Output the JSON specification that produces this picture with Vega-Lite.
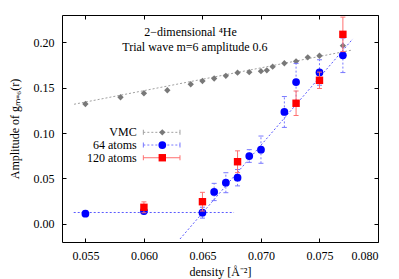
{
  "$schema": "https://vega.github.io/schema/vega-lite/v6.json",
  "width": 316,
  "height": 227,
  "autosize": {"type": "none"},
  "padding": {"left": 62, "top": 15, "right": 21, "bottom": 37},
  "background": "white",
  "config": {
    "view": {"stroke": "#000000", "strokeWidth": 1},
    "axis": {
      "labelFont": "Liberation Serif", "labelFontSize": 12, "labelColor": "#000000",
      "titleFont": "Liberation Serif", "titleFontSize": 12, "titleFontWeight": "normal", "titleColor": "#000000",
      "tickColor": "#000000", "tickSize": -4, "domain": false, "grid": false
    },
    "text": {"font": "Liberation Serif", "fontSize": 12, "color": "#000000"}
  },
  "datasets": {
    "fits": [
      {"f": "gray", "x": 0.05403, "y": 0.1317},
      {"f": "gray", "x": 0.07784, "y": 0.1915},
      {"f": "flat", "x": 0.0540, "y": 0.0125},
      {"f": "flat", "x": 0.0677, "y": 0.0125},
      {"f": "steep", "x": 0.06308, "y": -0.0167},
      {"f": "steep", "x": 0.07784, "y": 0.2036}
    ],
    "pts": [
      {"s": "VMC", "x": 0.055, "y": 0.1320},
      {"s": "VMC", "x": 0.058, "y": 0.1394},
      {"s": "VMC", "x": 0.060, "y": 0.1438},
      {"s": "VMC", "x": 0.062, "y": 0.1471},
      {"s": "VMC", "x": 0.064, "y": 0.1537},
      {"s": "VMC", "x": 0.065, "y": 0.1573},
      {"s": "VMC", "x": 0.066, "y": 0.1601},
      {"s": "VMC", "x": 0.067, "y": 0.1630},
      {"s": "VMC", "x": 0.068, "y": 0.1665},
      {"s": "VMC", "x": 0.069, "y": 0.1670},
      {"s": "VMC", "x": 0.070, "y": 0.1681},
      {"s": "VMC", "x": 0.0705, "y": 0.1691},
      {"s": "VMC", "x": 0.071, "y": 0.1731},
      {"s": "VMC", "x": 0.072, "y": 0.1769},
      {"s": "VMC", "x": 0.073, "y": 0.1790},
      {"s": "VMC", "x": 0.074, "y": 0.1834},
      {"s": "VMC", "x": 0.075, "y": 0.1851},
      {"s": "VMC", "x": 0.077, "y": 0.1962},
      {"s": "64 atoms", "x": 0.055, "y": 0.0112, "lo": 0.0082, "hi": 0.0142},
      {"s": "64 atoms", "x": 0.060, "y": 0.0141, "lo": 0.0111, "hi": 0.0171},
      {"s": "64 atoms", "x": 0.065, "y": 0.0123, "lo": 0.0063, "hi": 0.0183},
      {"s": "64 atoms", "x": 0.066, "y": 0.0351, "lo": 0.0256, "hi": 0.0446},
      {"s": "64 atoms", "x": 0.067, "y": 0.0453, "lo": 0.0343, "hi": 0.0563},
      {"s": "64 atoms", "x": 0.068, "y": 0.0508, "lo": 0.0418, "hi": 0.0598},
      {"s": "64 atoms", "x": 0.069, "y": 0.0747, "lo": 0.0677, "hi": 0.0817},
      {"s": "64 atoms", "x": 0.070, "y": 0.0817, "lo": 0.0667, "hi": 0.0967},
      {"s": "64 atoms", "x": 0.072, "y": 0.1232, "lo": 0.1062, "hi": 0.1402},
      {"s": "64 atoms", "x": 0.073, "y": 0.1562, "lo": 0.1357, "hi": 0.1767},
      {"s": "64 atoms", "x": 0.075, "y": 0.1667, "lo": 0.1527, "hi": 0.1807},
      {"s": "64 atoms", "x": 0.077, "y": 0.1856, "lo": 0.1666, "hi": 0.2046},
      {"s": "120 atoms", "x": 0.060, "y": 0.0182, "lo": 0.0122, "hi": 0.0242},
      {"s": "120 atoms", "x": 0.065, "y": 0.0244, "lo": 0.0141, "hi": 0.0347},
      {"s": "120 atoms", "x": 0.068, "y": 0.0684, "lo": 0.0564, "hi": 0.0804},
      {"s": "120 atoms", "x": 0.073, "y": 0.1328, "lo": 0.1193, "hi": 0.1463},
      {"s": "120 atoms", "x": 0.075, "y": 0.1581, "lo": 0.1491, "hi": 0.1671},
      {"s": "120 atoms", "x": 0.077, "y": 0.2087, "lo": 0.1897, "hi": 0.2277}
    ]
  },
  "layer": [
    {
      "data": {"name": "fits"},
      "transform": [{"filter": "datum.f === 'gray'"}],
      "mark": {"type": "line", "color": "#a0a0a0", "strokeDash": [2, 2], "strokeWidth": 1},
      "encoding": {
        "x": {"field": "x", "type": "quantitative", "scale": {"domain": [0.053, 0.08], "nice": false, "zero": false},
              "axis": {"orient": "top", "labels": false, "title": null, "tickSize": -4, "tickColor": "#000000", "values": [0.055, 0.06, 0.065, 0.07, 0.075, 0.08]}},
        "y": {"field": "y", "type": "quantitative", "scale": {"domain": [-0.02, 0.23], "nice": false, "zero": false},
              "axis": {"orient": "right", "labels": false, "title": null, "tickSize": -4, "tickColor": "#000000", "values": [0, 0.05, 0.1, 0.15, 0.2]}}
      }
    },
    {
      "data": {"name": "fits"},
      "transform": [{"filter": "datum.f !== 'gray'"}],
      "mark": {"type": "line", "color": "#5a5aff", "strokeDash": [2, 2], "strokeWidth": 1},
      "encoding": {
        "x": {"field": "x", "type": "quantitative", "axis": null},
        "y": {"field": "y", "type": "quantitative", "axis": null},
        "detail": {"field": "f"}
      }
    },
    {
      "data": {"name": "pts"},
      "transform": [{"filter": "datum.s === 'VMC'"}],
      "mark": {"type": "point", "shape": "diamond", "filled": true, "color": "#787878", "size": 40, "opacity": 1},
      "encoding": {
        "x": {"field": "x", "type": "quantitative", "scale": {"domain": [0.053, 0.08], "nice": false, "zero": false},
              "axis": {"orient": "bottom", "values": [0.055, 0.06, 0.065, 0.07, 0.075, 0.08], "format": ".3f",
                       "labelFont": "Liberation Serif", "labelFontSize": 12, "labelColor": "#000000", "labelPadding": 12,
                       "tickSize": -4, "tickColor": "#000000",
                       "title": "density [Å⁻²]", "titleFont": "Liberation Serif", "titleFontSize": 12, "titleFontWeight": "normal", "titleColor": "#000000", "titlePadding": 5}},
        "y": {"field": "y", "type": "quantitative", "scale": {"domain": [-0.02, 0.23], "nice": false, "zero": false},
              "axis": {"orient": "left", "values": [0, 0.05, 0.1, 0.15, 0.2], "format": ".2f",
                       "labelFont": "Liberation Serif", "labelFontSize": 12, "labelColor": "#000000", "labelPadding": 12,
                       "tickSize": -4, "tickColor": "#000000",
                       "title": "Amplitude of gₘ₌₆(r)", "titleFont": "Liberation Serif", "titleFontSize": 12, "titleFontWeight": "normal", "titleColor": "#000000", "titlePadding": 12}}
      }
    },
    {
      "data": {"name": "pts"},
      "transform": [{"filter": "datum.s === '64 atoms'"}],
      "mark": {"type": "rule", "color": "#7878ff", "strokeDash": [2, 2], "strokeWidth": 1},
      "encoding": {
        "x": {"field": "x", "type": "quantitative", "axis": null},
        "y": {"field": "lo", "type": "quantitative", "axis": null},
        "y2": {"field": "hi"}
      }
    },
    {
      "data": {"name": "pts"},
      "transform": [{"filter": "datum.s === '64 atoms'"}, {"fold": ["lo", "hi"]}],
      "mark": {"type": "tick", "orient": "horizontal", "color": "#7878ff", "size": 5, "thickness": 1, "opacity": 1},
      "encoding": {
        "x": {"field": "x", "type": "quantitative", "axis": null},
        "y": {"field": "value", "type": "quantitative", "axis": null}
      }
    },
    {
      "data": {"name": "pts"},
      "transform": [{"filter": "datum.s === '64 atoms'"}],
      "mark": {"type": "point", "shape": "circle", "filled": true, "color": "#0000ff", "size": 60, "opacity": 1},
      "encoding": {
        "x": {"field": "x", "type": "quantitative", "axis": null},
        "y": {"field": "y", "type": "quantitative", "axis": null}
      }
    },
    {
      "data": {"name": "pts"},
      "transform": [{"filter": "datum.s === '120 atoms'"}],
      "mark": {"type": "rule", "color": "#ff7070", "strokeWidth": 1},
      "encoding": {
        "x": {"field": "x", "type": "quantitative", "axis": null},
        "y": {"field": "lo", "type": "quantitative", "axis": null},
        "y2": {"field": "hi"}
      }
    },
    {
      "data": {"name": "pts"},
      "transform": [{"filter": "datum.s === '120 atoms'"}, {"fold": ["lo", "hi"]}],
      "mark": {"type": "tick", "orient": "horizontal", "color": "#ff7070", "size": 5, "thickness": 1, "opacity": 1},
      "encoding": {
        "x": {"field": "x", "type": "quantitative", "axis": null},
        "y": {"field": "value", "type": "quantitative", "axis": null}
      }
    },
    {
      "data": {"name": "pts"},
      "transform": [{"filter": "datum.s === '120 atoms'"}],
      "mark": {"type": "point", "shape": "square", "filled": true, "color": "#ff0000", "size": 55, "opacity": 1},
      "encoding": {
        "x": {"field": "x", "type": "quantitative", "axis": null},
        "y": {"field": "y", "type": "quantitative", "axis": null}
      }
    },
    {
      "data": {"values": [{"t": "2−dimensional ⁴He"}]},
      "mark": {"type": "text", "align": "center", "baseline": "middle", "font": "Liberation Serif", "fontSize": 12},
      "encoding": {
        "x": {"datum": 0.06398, "type": "quantitative", "axis": null},
        "y": {"datum": 0.2113, "type": "quantitative", "axis": null},
        "text": {"field": "t"}
      }
    },
    {
      "data": {"values": [{"t": "Trial wave m=6 amplitude 0.6"}]},
      "mark": {"type": "text", "align": "center", "baseline": "middle", "font": "Liberation Serif", "fontSize": 12},
      "encoding": {
        "x": {"datum": 0.06436, "type": "quantitative", "axis": null},
        "y": {"datum": 0.1951, "type": "quantitative", "axis": null},
        "text": {"field": "t"}
      }
    },
    {
      "data": {"values": [{"label": "VMC"}]},
      "encoding": {"y": {"datum": 0.1008, "type": "quantitative", "axis": null}},
      "layer": [
        {"mark": {"type": "text", "align": "right", "baseline": "middle", "font": "Liberation Serif", "fontSize": 12},
         "encoding": {"x": {"datum": 0.05938, "type": "quantitative", "axis": null}, "text": {"field": "label"}}},
        {"mark": {"type": "rule", "color": "#a0a0a0", "strokeDash": [2, 2], "strokeWidth": 1},
         "encoding": {"x": {"datum": 0.05995, "type": "quantitative", "axis": null}, "x2": {"datum": 0.06308}}},
        {"mark": {"type": "tick", "orient": "vertical", "color": "#a0a0a0", "size": 5, "thickness": 1, "opacity": 1},
         "encoding": {"x": {"datum": 0.05995, "type": "quantitative", "axis": null}}},
        {"mark": {"type": "tick", "orient": "vertical", "color": "#a0a0a0", "size": 5, "thickness": 1, "opacity": 1},
         "encoding": {"x": {"datum": 0.06308, "type": "quantitative", "axis": null}}},
        {"mark": {"type": "point", "shape": "diamond", "filled": true, "color": "#787878", "size": 40, "opacity": 1},
         "encoding": {"x": {"datum": 0.06157, "type": "quantitative", "axis": null}}}
      ]
    },
    {
      "data": {"values": [{"label": "64 atoms"}]},
      "encoding": {"y": {"datum": 0.0868, "type": "quantitative", "axis": null}},
      "layer": [
        {"mark": {"type": "text", "align": "right", "baseline": "middle", "font": "Liberation Serif", "fontSize": 12},
         "encoding": {"x": {"datum": 0.05938, "type": "quantitative", "axis": null}, "text": {"field": "label"}}},
        {"mark": {"type": "rule", "color": "#7878ff", "strokeDash": [2, 2], "strokeWidth": 1},
         "encoding": {"x": {"datum": 0.05995, "type": "quantitative", "axis": null}, "x2": {"datum": 0.06308}}},
        {"mark": {"type": "tick", "orient": "vertical", "color": "#7878ff", "size": 5, "thickness": 1, "opacity": 1},
         "encoding": {"x": {"datum": 0.05995, "type": "quantitative", "axis": null}}},
        {"mark": {"type": "tick", "orient": "vertical", "color": "#7878ff", "size": 5, "thickness": 1, "opacity": 1},
         "encoding": {"x": {"datum": 0.06308, "type": "quantitative", "axis": null}}},
        {"mark": {"type": "point", "shape": "circle", "filled": true, "color": "#0000ff", "size": 60, "opacity": 1},
         "encoding": {"x": {"datum": 0.06157, "type": "quantitative", "axis": null}}}
      ]
    },
    {
      "data": {"values": [{"label": "120 atoms"}]},
      "encoding": {"y": {"datum": 0.0728, "type": "quantitative", "axis": null}},
      "layer": [
        {"mark": {"type": "text", "align": "right", "baseline": "middle", "font": "Liberation Serif", "fontSize": 12},
         "encoding": {"x": {"datum": 0.05938, "type": "quantitative", "axis": null}, "text": {"field": "label"}}},
        {"mark": {"type": "rule", "color": "#ff7070", "strokeWidth": 1},
         "encoding": {"x": {"datum": 0.05995, "type": "quantitative", "axis": null}, "x2": {"datum": 0.06308}}},
        {"mark": {"type": "tick", "orient": "vertical", "color": "#ff7070", "size": 5, "thickness": 1, "opacity": 1},
         "encoding": {"x": {"datum": 0.05995, "type": "quantitative", "axis": null}}},
        {"mark": {"type": "tick", "orient": "vertical", "color": "#ff7070", "size": 5, "thickness": 1, "opacity": 1},
         "encoding": {"x": {"datum": 0.06308, "type": "quantitative", "axis": null}}},
        {"mark": {"type": "point", "shape": "square", "filled": true, "color": "#ff0000", "size": 55, "opacity": 1},
         "encoding": {"x": {"datum": 0.06157, "type": "quantitative", "axis": null}}}
      ]
    }
  ]
}
